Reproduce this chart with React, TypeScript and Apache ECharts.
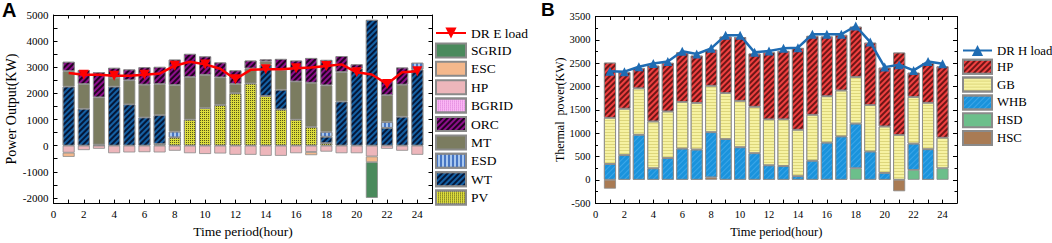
import React, { useEffect, useRef } from 'react';
import * as echarts from 'echarts';

// ---------- data ----------
const hours = [1, 2, 3, 4, 5, 6, 7, 8, 9, 10, 11, 12, 13, 14, 15, 16, 17, 18, 19, 20, 21, 22, 23, 24];

// Panel A: electric power balance (kW)
const pvA = [0, 0, 0, 0, 0, 0, 60, 316, 996, 1434, 1555, 2005, 2381, 1900, 1385, 996, 717, 97, 0, 0, 0, 0, 0, 0];
const wtA = [2260, 1410, 40, 2260, 1580, 1080, 1106, 0, 0, 0, 0, 0, 0, 1200, 753, 0, 0, 243, 1690, 2953, 4812, 680, 1105, 2916];
const esdA = [0, 0, 0, 0, 0, 0, 0, 219, 0, 0, 0, 0, 0, 0, 0, 0, 0, 182, 0, 0, 0, 220, 0, 255];
const mtA = [595, 947, 1807, 340, 923, 1253, 1191, 1785, 1629, 1276, 1057, 352, 571, 120, 754, 1458, 1689, 1786, 1129, 0, 0, 1032, 1228, 0];
const orcA = [353, 533, 960, 377, 413, 667, 656, 973, 886, 704, 571, 523, 304, 80, 425, 802, 947, 972, 607, 157, 0, 546, 657, 0];
const bgridA = [0, 0, 0, 0, 0, 0, 0, 0, 0, 0, 0, 0, 0, 0, 0, 0, 0, 0, 0, 0, 0, 0, 0, 0];
const hpA = [-270, -170, -120, -290, -260, -250, -260, -195, -290, -320, -300, -350, -350, -390, -390, -290, -243, -230, -290, -290, -413, -120, -195, -350];
const escA = [-160, 0, 0, 0, 0, 0, 0, 0, 0, 0, 0, 0, 0, 0, 0, 0, -122, 0, 0, 0, -220, 0, 0, 0];
const sgridA = [0, 0, 0, 0, 0, 0, 0, 0, 0, 0, 0, 0, 0, 0, 0, 0, 0, 0, 0, 0, -1367, 0, 0, 0];
const loadA = [2780, 2710, 2710, 2673, 2673, 2710, 2758, 3060, 3208, 3110, 2940, 2540, 2900, 2928, 2928, 2965, 2990, 3050, 3110, 2807, 2722, 2357, 2807, 2843];

// Panel B: thermal power balance (kW)
const hscB = [-190, 0, 0, 0, 0, 0, 0, 50, 0, 0, 0, 0, 0, 0, 0, 0, 0, 0, 0, 0, -246, 0, 0, 0];
const hsdB = [0, 0, 0, 0, 0, 0, 0, 0, 0, 0, 0, 0, 0, 0, 0, 0, 0, 246, 0, 0, 0, 211, 0, 246];
const whbB = [338, 528, 965, 246, 465, 669, 648, 970, 873, 697, 570, 310, 296, 77, 408, 796, 930, 958, 606, 148, 0, 564, 655, 0];
const gbB = [990, 995, 995, 1005, 1000, 1000, 1000, 995, 985, 995, 995, 985, 1000, 995, 985, 995, 985, 1000, 995, 995, 960, 1000, 995, 655];
const hpB = [1183, 782, 436, 1196, 1042, 1063, 1014, 775, 1211, 1366, 1141, 1436, 1465, 1754, 1691, 1281, 1191, 1078, 1338, 1260, 1767, 521, 852, 1529];
const loadB = [2324, 2317, 2422, 2493, 2535, 2754, 2697, 2817, 3100, 3099, 2732, 2761, 2817, 2831, 3120, 3120, 3120, 3296, 2951, 2415, 2465, 2345, 2535, 2486];

const yLabelsA = [-2000, -1000, 0, 1000, 2000, 3000, 4000, 5000];
const yTicksA = [-2000, -1500, -1000, -500, 0, 500, 1000, 1500, 2000, 2500, 3000, 3500, 4000, 4500, 5000];

// ---------- helpers ----------
const SERIF = 'Liberation Serif';
// x axis runs from 0 to 25: one empty slot on each side of the 24 hours
const xCats = ['0', ...hours.map(String), '25'];
const padBar = (arr: number[]) => [null, ...arr.map((v) => (v === 0 ? null : v)), null];
const padLine = (arr: number[]) => [null, ...arr, null];

const diag = (color: string, on = 1.2, off = 1.6) => ({
  symbol: 'rect', symbolSize: 1, color,
  dashArrayX: [1, 0], dashArrayY: [on, off], rotation: -Math.PI / 4,
});
const vstripe = (color: string) => ({
  symbol: 'rect', symbolSize: 1, color, dashArrayX: [1.5, 1.5], dashArrayY: [1, 0], rotation: 0,
});
const hstripe = (color: string) => ({
  symbol: 'rect', symbolSize: 1, color, dashArrayX: [1, 0], dashArrayY: [1, 1.5], rotation: 0,
});
const dots = (color: string) => ({
  symbol: 'rect', symbolSize: 1, color, dashArrayX: [1, 1], dashArrayY: [1, 1], rotation: 0,
});

const barBorder = { borderColor: '#8a8a8a', borderWidth: 0.8 };

const bar = (name: string, data: number[], color: string, decal: any, axis: number, stack: string) => ({
  name, type: 'bar', stack, xAxisIndex: axis, yAxisIndex: axis,
  barWidth: 12,
  data: padBar(data),
  itemStyle: { color, ...barBorder, decal: decal || undefined },
  emphasis: { disabled: true },
});

const axisLine = { show: true, onZero: false, lineStyle: { color: '#000', width: 1 } };
const tick = { show: true, inside: true, length: 4, lineStyle: { color: '#000' } };
const labelStyle = (size: number, margin: number) => ({ fontFamily: SERIF, fontSize: size, color: '#000', margin });
const plain = (v: number) => String(v);

const catAxis = (grid: number, pos: string, extra: any) => ({
  type: 'category', gridIndex: grid, position: pos, data: xCats, boundaryGap: false,
  axisLine, axisTick: { ...tick, length: 3.5, interval: 0 }, splitLine: { show: false },
  ...extra,
});

export default function App() {
  const ref = useRef<HTMLDivElement>(null);
  useEffect(() => {
    const chart = echarts.init(ref.current!, null, { renderer: 'svg' });
    const evenLabel = (idx: number) => idx % 2 === 0 && idx <= 24;
    const option: any = {
      animation: false,
      backgroundColor: '#fff',
      grid: [
        { left: 53.5, right: 619.5, top: 15, bottom: 30.7 },
        { left: 595.5, right: 95, top: 16.5, bottom: 38.5 },
      ],
      xAxis: [
        catAxis(0, 'bottom', {
          axisLabel: { ...labelStyle(11, 5), interval: evenLabel },
          name: 'Time period(hour)', nameLocation: 'middle', nameGap: 14,
          nameTextStyle: { fontFamily: SERIF, fontSize: 13.5, color: '#000' },
        }),
        catAxis(0, 'top', { axisLabel: { show: false } }),
        catAxis(1, 'bottom', {
          axisLabel: { ...labelStyle(10.5, 6), interval: evenLabel },
          name: 'Time period(hour)', nameLocation: 'middle', nameGap: 16,
          nameTextStyle: { fontFamily: SERIF, fontSize: 12.5, color: '#000' },
        }),
        catAxis(1, 'top', { axisLabel: { show: false } }),
      ],
      yAxis: [
        {
          type: 'value', gridIndex: 0, position: 'left', min: -2200, max: 5000,
          axisLine, splitLine: { show: false },
          axisTick: { ...tick, customValues: yTicksA },
          axisLabel: { ...labelStyle(11, 5), customValues: yLabelsA, formatter: plain },
          name: 'Power Output(KW)', nameLocation: 'middle', nameGap: 33,
          nameTextStyle: { fontFamily: SERIF, fontSize: 14, color: '#000' },
        },
        {
          type: 'value', gridIndex: 0, position: 'right', min: -2200, max: 5000,
          axisLine, splitLine: { show: false },
          axisTick: { ...tick, customValues: yTicksA },
          axisLabel: { show: false },
        },
        {
          type: 'value', gridIndex: 1, position: 'left', min: -500, max: 3500, interval: 500,
          axisLine, splitLine: { show: false }, axisTick: tick,
          minorTick: { show: true, splitNumber: 2, length: 2.5, lineStyle: { color: '#000' } },
          axisLabel: { ...labelStyle(10.5, 5), formatter: plain },
          name: 'Thermal  power(KW)', nameLocation: 'middle', nameGap: 29,
          nameTextStyle: { fontFamily: SERIF, fontSize: 12, color: '#000' },
        },
        {
          type: 'value', gridIndex: 1, position: 'right', min: -500, max: 3500, interval: 500,
          axisLine, splitLine: { show: false }, axisTick: tick,
          minorTick: { show: true, splitNumber: 2, length: 2.5, lineStyle: { color: '#000' } },
          axisLabel: { show: false },
        },
      ],
      legend: [
        {
          orient: 'vertical', left: 435, top: 26, padding: 0,
          itemWidth: 30, itemHeight: 14, itemGap: 2.4,
          textStyle: { fontFamily: SERIF, fontSize: 13.5, color: '#000' },
          selectedMode: false,
          data: [
            { name: 'DR E load' },
            { name: 'SGRID', icon: 'rect' },
            { name: 'ESC', icon: 'rect' },
            { name: 'HP', icon: 'rect' },
            { name: 'BGRID', icon: 'rect' },
            { name: 'ORC', icon: 'rect' },
            { name: 'MT', icon: 'rect' },
            { name: 'ESD', icon: 'rect' },
            { name: 'WT', icon: 'rect' },
            { name: 'PV', icon: 'rect' },
          ],
        },
        {
          orient: 'vertical', left: 962, top: 44, padding: 0,
          itemWidth: 29, itemHeight: 14, itemGap: 1.8,
          textStyle: { fontFamily: SERIF, fontSize: 12.8, color: '#000' },
          selectedMode: false,
          data: [
            { name: 'DR H load' },
            { name: 'HP ', icon: 'rect' },
            { name: 'GB', icon: 'rect' },
            { name: 'WHB', icon: 'rect' },
            { name: 'HSD', icon: 'rect' },
            { name: 'HSC', icon: 'rect' },
          ],
        },
      ],
      graphic: [
        { type: 'text', left: 2, top: 0, style: { text: 'A', fontFamily: 'Liberation Sans', fontWeight: 'bold', fontSize: 20, fill: '#000' } },
        { type: 'text', left: 541, top: 0, style: { text: 'B', fontFamily: 'Liberation Sans', fontWeight: 'bold', fontSize: 19, fill: '#000' } },
      ],
      series: [
        bar('PV', pvA, '#dcdc3c', dots('rgba(0,0,0,0.6)'), 0, 'A'),
        bar('WT', wtA, '#1560a3', diag('rgba(0,5,30,0.8)'), 0, 'A'),
        bar('ESD', esdA, '#a9c8ef', vstripe('rgba(40,90,180,0.75)'), 0, 'A'),
        bar('MT', mtA, '#7b7c60', null, 0, 'A'),
        bar('ORC', orcA, '#8c0f8a', diag('rgba(15,0,15,0.85)'), 0, 'A'),
        bar('BGRID', bgridA, '#fab6f4', dots('rgba(200,90,200,0.6)'), 0, 'A'),
        bar('HP', hpA, '#edb6bb', null, 0, 'A'),
        bar('ESC', escA, '#f4b88c', null, 0, 'A'),
        bar('SGRID', sgridA, '#4a8a5c', null, 0, 'A'),
        {
          name: 'DR E load', type: 'line', xAxisIndex: 0, yAxisIndex: 0,
          data: padLine(loadA),
          lineStyle: { color: '#ff0000', width: 2.5 },
          itemStyle: { color: '#ff0000' },
          symbol: 'triangle', symbolRotate: 180, symbolSize: 10, z: 5,
          emphasis: { disabled: true },
        },
        bar('HSC', hscB, '#a97b54', null, 2, 'B'),
        bar('HSD', hsdB, '#6cbf8b', null, 2, 'B'),
        bar('WHB', whbB, '#1a93dc', diag('rgba(120,200,255,0.35)', 1, 2.5), 2, 'B'),
        bar('GB', gbB, '#f6f2a2', hstripe('rgba(200,190,90,0.55)'), 2, 'B'),
        bar('HP ', hpB, '#f04040', diag('rgba(40,0,0,0.65)'), 2, 'B'),
        {
          name: 'DR H load', type: 'line', xAxisIndex: 2, yAxisIndex: 2,
          data: padLine(loadB),
          lineStyle: { color: '#1f6cb3', width: 2.5 },
          itemStyle: { color: '#1f6cb3' },
          symbol: 'triangle', symbolSize: 9, z: 5,
          emphasis: { disabled: true },
        },
      ],
    };
    chart.setOption(option);
    return () => chart.dispose();
  }, []);
  return (
    <div
      ref={ref}
      style={{ position: 'fixed', left: 0, top: 0, width: 1052, height: 243, background: '#fff' }}
    />
  );
}
